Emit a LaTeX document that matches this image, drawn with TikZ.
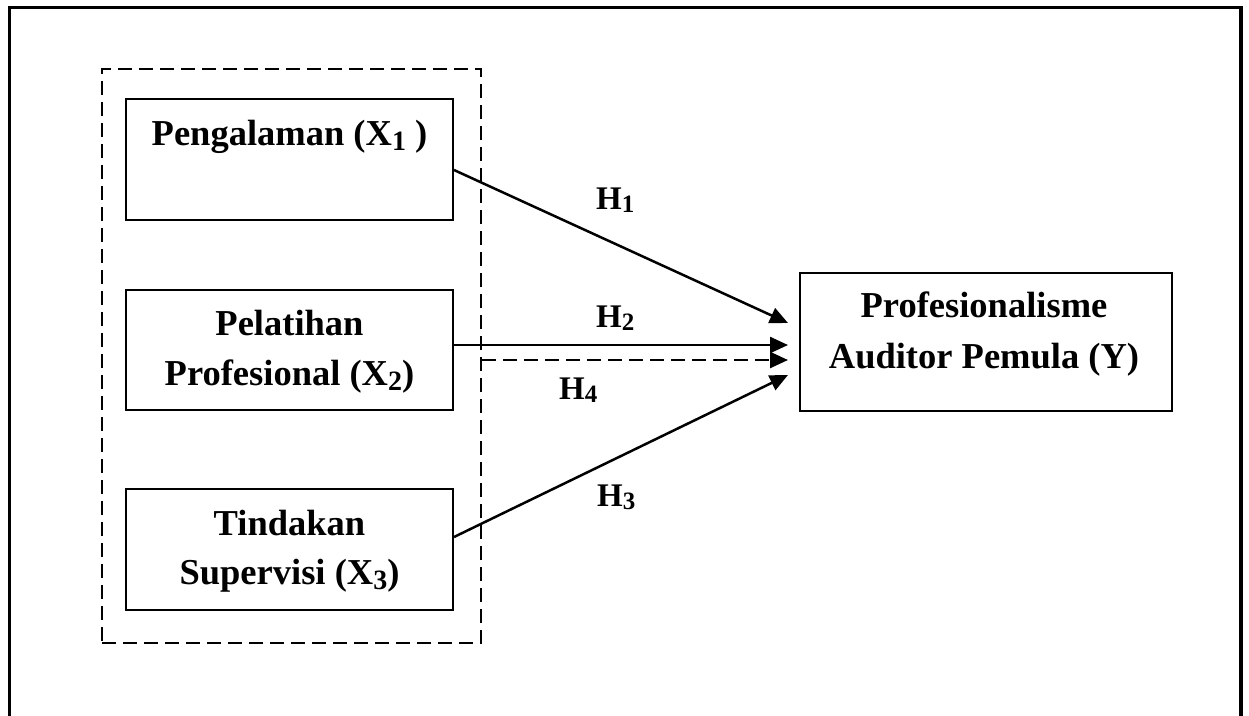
\documentclass[tikz,border=0pt]{standalone}
\usepackage{fontspec}
\setmainfont{Liberation Serif}
\usetikzlibrary{arrows.meta,calc}
% lowered subscripts for the variable names and hypothesis labels
\newcommand\subX[1]{\raisebox{-5pt}{\fontsize{28}{28}\selectfont #1}}
\newcommand\subH[1]{\raisebox{-3.5pt}{\fontsize{25}{25}\selectfont #1}}
\begin{document}
\begin{tikzpicture}[x=1pt,y=-1pt,
  frame/.style={line width=3.5pt},
  varbox/.style={draw,line width=2pt,rectangle,inner sep=0pt},
  grpbox/.style={draw,line width=2pt,rectangle,inner sep=0pt,dash pattern=on 14pt off 7pt},
  txt/.style={font=\bfseries\fontsize{36.5}{50}\selectfont,anchor=base,inner sep=0pt},
  hlbl/.style={font=\bfseries\fontsize{33}{33}\selectfont,anchor=base west,inner sep=0pt},
  link/.style={line width=2.5pt,-{Triangle[length=18pt,width=16pt]}},
  dlink/.style={link,dash pattern=on 14pt off 7pt}]
\useasboundingbox (0,0) rectangle (1249,715);
% outer frame, open at the bottom
\draw[frame] (9.5,730) -- (9.5,7.5) -- (1241,7.5) -- (1241,730);

% group of independent variables
\node[grpbox,minimum width=379pt,minimum height=574pt] (grp) at (291.5,356) {};

% independent variables
\node[varbox,minimum width=327pt,minimum height=121pt] (b1) at (289.5,159.5) {};
\node[txt] (t1) at (289.5,145) {Pengalaman (X\subX{1} )};

\node[varbox,minimum width=327pt,minimum height=120pt] (b2) at (289.5,350) {};
\node[txt] (t2a) at (289.5,335) {Pelatihan};
\node[txt] (t2b) at (289.5,385) {Profesional (X\subX{2})};

\node[varbox,minimum width=327pt,minimum height=121pt] (b3) at (289.5,549.5) {};
\node[txt] (t3a) at (289.5,535) {Tindakan};
\node[txt] (t3b) at (289.5,584) {Supervisi (X\subX{3})};

% dependent variable
\node[varbox,minimum width=372pt,minimum height=138pt] (y) at (986,342) {};
\node[txt] (ty1) at (984,317) {Profesionalisme};
\node[txt] (ty2) at (984,368) {Auditor Pemula (Y)};

% arrow tips in front of the dependent variable
\coordinate (e1) at ($(y.west)+(-11,-19)$);
\coordinate (e2) at ($(y.west)+(-11,3)$);
\coordinate (e4) at ($(y.west)+(-11,18)$);
\coordinate (e3) at ($(y.west)+(-11,33)$);

% hypotheses
\draw[link] ($(b1.east)+(0,10.5)$) -- (e1);
\draw[link] (b2.east |- e2) -- (e2);
\draw[dlink] (grp.east |- e4) -- (e4);
\draw[link] ($(b3.east)+(0,-12.5)$) -- (e3);

\node[hlbl] (h1) at (596,209) {H\subH{1}};
\node[hlbl] (h2) at (596,327) {H\subH{2}};
\node[hlbl] (h4) at (559,399) {H\subH{4}};
\node[hlbl] (h3) at (597,506) {H\subH{3}};
\end{tikzpicture}
\end{document}
